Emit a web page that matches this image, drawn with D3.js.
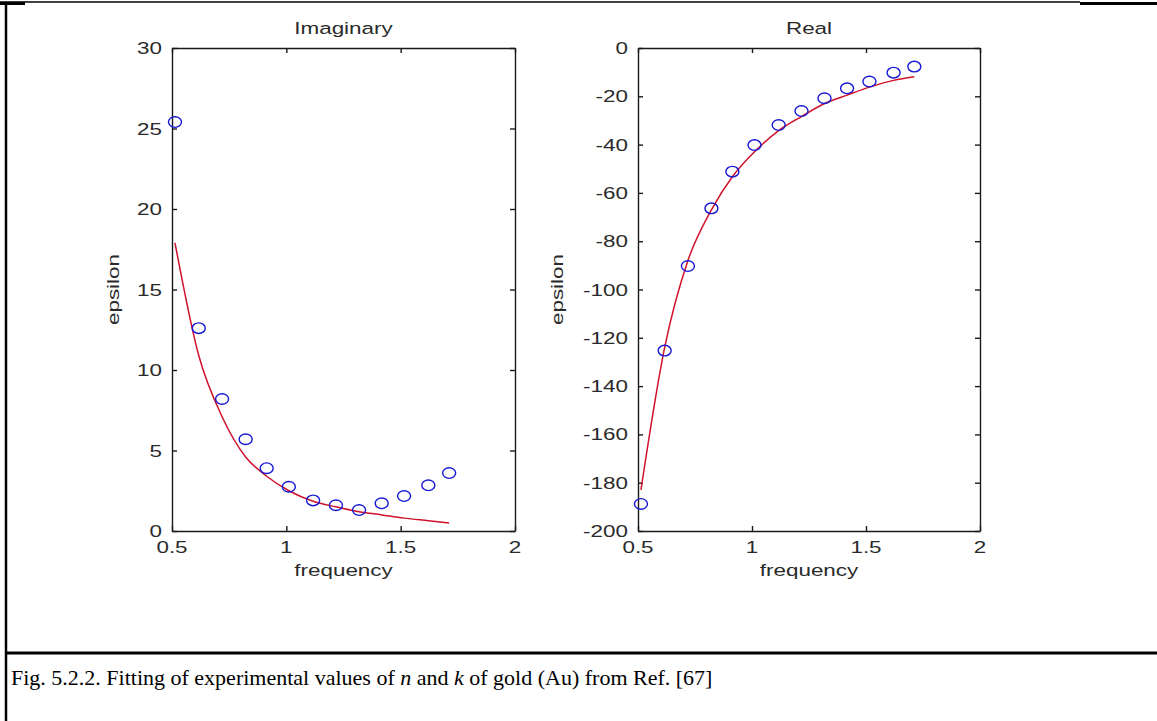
<!DOCTYPE html>
<html>
<head>
<meta charset="utf-8">
<script src="https://cdn.jsdelivr.net/npm/d3@7"></script>
<style>
  html, body { margin: 0; padding: 0; background: #fff; }
  svg { display: block; }
</style>
</head>
<body>
<svg id="fig" width="1157" height="721"></svg>
<script>
// Dielectric function of gold: measured points (circles) and model fit (line)
const frequency = [0.513, 0.617, 0.719, 0.822, 0.914, 1.011, 1.117, 1.217, 1.318, 1.417, 1.515, 1.621, 1.712];
const imagMeasured = [25.4, 12.6, 8.2, 5.7, 3.9, 2.75, 1.9, 1.6, 1.3, 1.72, 2.17, 2.84, 3.6];
const imagFit = [17.9, 10.9, 7.1, 4.6, 3.4, 2.5, 1.85, 1.5, 1.2, 1.0, 0.8, 0.64, 0.5];
const realMeasured = [-188.8, -125.3, -90.3, -66.4, -51.2, -40.2, -31.9, -26.1, -20.8, -16.7, -13.9, -10.2, -7.7];
const realFit = [-183, -124, -88, -67, -53.3, -43, -34.2, -28.4, -23, -19.5, -16.2, -13.4, -11.9];

const xTicks = [0.5, 1, 1.5, 2];
const imagTicks = [0, 5, 10, 15, 20, 25, 30];
const realTicks = [0, -20, -40, -60, -80, -100, -120, -140, -160, -180, -200];

const panelTitles = ["Imaginary", "Real"];
const xLabel = "frequency";
const yLabel = "epsilon";

const svg = d3.select("#fig");
const FONT = "'Liberation Sans', Arial, sans-serif";
const WIDEN = 1.32;          // the plotting font is set wide
const AXIS_COLOR = "#1a1a1a";
const TEXT_COLOR = "#2a2a2a";
const LINE_COLOR = "#d0122a";
const MARK_COLOR = "#1616d6";

// wide-set label helper
function label(g, txt, x, y, anchor, rotate, size) {
  g.append("g")
    .attr("transform", `translate(${x},${y}) rotate(${rotate || 0}) scale(${WIDEN},1)`)
    .append("text")
    .attr("text-anchor", anchor)
    .attr("font-family", FONT)
    .attr("font-size", size || 17)
    .attr("fill", TEXT_COLOR)
    .text(txt);
}

function panel(opts) {
  const { left, right, top, bottom, yDomain, yTicks, measured, fit, title, yLabelX } = opts;
  const x = d3.scaleLinear().domain([0.5, 2]).range([left, right]);
  const y = d3.scaleLinear().domain(yDomain).range([bottom, top]);
  const g = svg.append("g");

  // box with inward ticks on all four sides
  const addAxis = (axis, tx, ty) => {
    const a = g.append("g").attr("transform", `translate(${tx},${ty})`)
      .call(axis.tickSizeInner(-5).tickSizeOuter(0).tickFormat(""));
    a.selectAll("path, line").attr("stroke", AXIS_COLOR).attr("stroke-width", 1.4);
  };
  addAxis(d3.axisBottom(x).tickValues(xTicks), 0, bottom);
  addAxis(d3.axisTop(x).tickValues(xTicks), 0, top);
  addAxis(d3.axisLeft(y).tickValues(yTicks), left, 0);
  addAxis(d3.axisRight(y).tickValues(yTicks), right, 0);

  // tick labels
  yTicks.forEach(t => label(g, String(t), left - 10, y(t) + 6, "end"));
  xTicks.forEach(t => label(g, String(t), x(t), bottom + 22, "middle"));

  // titles
  label(g, title, (left + right) / 2, 34, "middle");
  label(g, xLabel, (left + right) / 2, 576, "middle");
  label(g, yLabel, yLabelX, (top + bottom) / 2, "middle", -90);

  // fitted curve
  const line = d3.line().x((d, i) => x(frequency[i])).y(d => y(d)).curve(d3.curveMonotoneX);
  g.append("path").datum(fit)
    .attr("d", line)
    .attr("fill", "none")
    .attr("stroke", LINE_COLOR)
    .attr("stroke-width", 1.5);

  // measured points
  g.selectAll("ellipse.pt").data(measured).join("ellipse")
    .attr("class", "pt")
    .attr("cx", (d, i) => x(frequency[i]))
    .attr("cy", d => y(d))
    .attr("rx", 6.5)
    .attr("ry", 5.3)
    .attr("fill", "none")
    .attr("stroke", MARK_COLOR)
    .attr("stroke-width", 1.4);
}

panel({ left: 172, right: 515, top: 48, bottom: 531, yDomain: [0, 30], yTicks: imagTicks,
        measured: imagMeasured, fit: imagFit, title: panelTitles[0], yLabelX: 119 });
panel({ left: 638, right: 980, top: 48, bottom: 531, yDomain: [-200, 0], yTicks: realTicks,
        measured: realMeasured, fit: realFit, title: panelTitles[1], yLabelX: 563 });

// page frame rules
const rule = (x1, y1, x2, y2, w) => svg.append("line")
  .attr("x1", x1).attr("y1", y1).attr("x2", x2).attr("y2", y2)
  .attr("stroke", "#000").attr("stroke-width", w);
rule(0, 2, 1080, 2, 1.5);
rule(0, 3.5, 25, 3.5, 3);
rule(1080, 3.5, 1157, 3.5, 3);
rule(6, 2, 6, 721, 2.5);
rule(6, 653, 1157, 653, 3);

// caption
const cap = svg.append("text")
  .attr("x", 11).attr("y", 685)
  .attr("font-family", "'Liberation Serif', 'Times New Roman', serif")
  .attr("font-size", 22)
  .attr("fill", "#000");
cap.append("tspan").text("Fig. 5.2.2. Fitting of experimental values of ");
cap.append("tspan").attr("font-style", "italic").text("n");
cap.append("tspan").text(" and ");
cap.append("tspan").attr("font-style", "italic").text("k");
cap.append("tspan").text(" of gold (Au) from Ref. [67]");
</script>
</body>
</html>
